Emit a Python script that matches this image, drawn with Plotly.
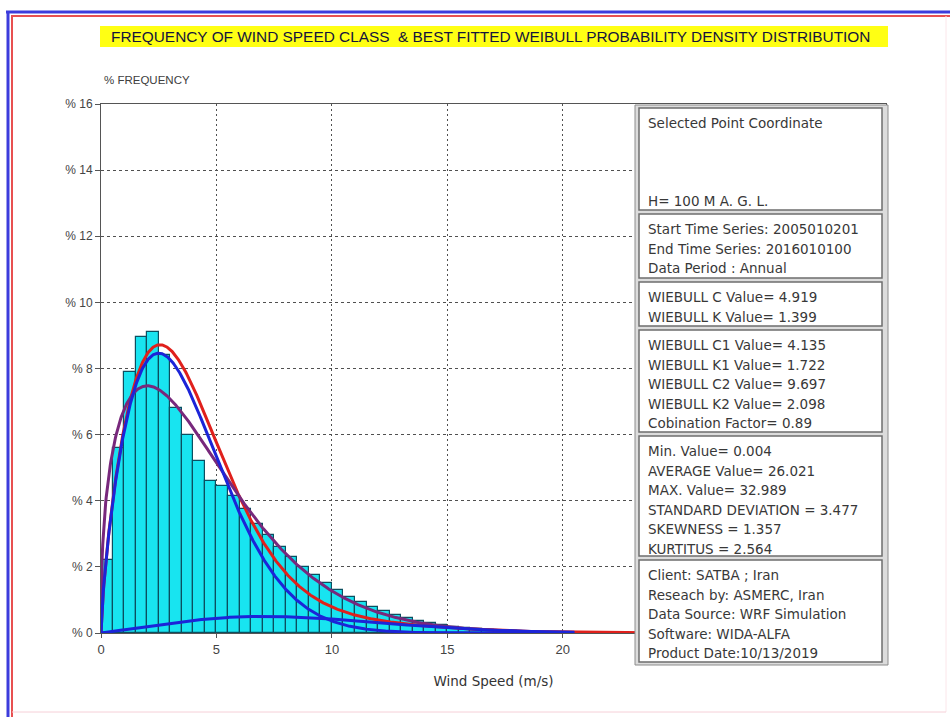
import numpy as np
import plotly.graph_objects as go

# ---- data -------------------------------------------------------------
class_width = 0.5  # m/s
class_start = [i * class_width for i in range(36)]
frequency_pct = [2.2, 5.6, 7.9, 8.95, 9.1, 8.4, 6.8, 6.0, 5.2, 4.6,
                 4.45, 4.15, 3.75, 3.3, 2.95, 2.6, 2.3, 2.0, 1.75, 1.5,
                 1.3, 1.1, 0.95, 0.8, 0.66, 0.55, 0.45, 0.37, 0.3, 0.24,
                 0.19, 0.15, 0.12, 0.09, 0.07, 0.05]

# fitted Weibull parameters
weibull_c, weibull_k = 4.919, 1.399
weibull_c1, weibull_k1 = 4.135, 1.722
weibull_c2, weibull_k2 = 9.697, 2.098
combination_factor = 0.89

y_ticks = [0, 2, 4, 6, 8, 10, 12, 14, 16]
y_tick_text = ["% " + str(v) for v in y_ticks]
x_ticks = [0, 5, 10, 15, 20]

info_boxes = [
    ["Selected Point Coordinate", "", "", "", "H= 100 M A. G. L."],
    ["Start Time Series: 2005010201", "End Time Series: 2016010100",
     "Data Period : Annual"],
    ["WIEBULL C Value= 4.919", "WIEBULL K Value= 1.399"],
    ["WIEBULL C1 Value= 4.135", "WIEBULL K1 Value= 1.722",
     "WIEBULL C2 Value= 9.697", "WIEBULL K2 Value= 2.098",
     "Cobination Factor= 0.89"],
    ["Min. Value= 0.004", "AVERAGE Value= 26.021", "MAX. Value= 32.989",
     "STANDARD DEVIATION = 3.477", "SKEWNESS = 1.357", "KURTITUS = 2.564"],
    ["Client: SATBA ; Iran", "Reseach by: ASMERC, Iran",
     "Data Source: WRF Simulation", "Software: WIDA-ALFA",
     "Product Date:10/13/2019"],
]

# ---- helpers ----------------------------------------------------------
W, H = 950, 717
L, R, T, B = 101, 64, 104, 84
PW, PH = W - L - R, H - T - B


def px(x):
    return (x - L) / PW


def py(y):
    return (H - B - y) / PH


def weibull_pct(x, c, k):
    x = np.asarray(x, dtype=float)
    pdf = (k / c) * (x / c) ** (k - 1) * np.exp(-(x / c) ** k)
    return pdf * 100 * class_width


xs_long = np.linspace(0, 34, 1361)
xs_short = np.linspace(0, 20.5, 821)

single = weibull_pct(xs_short, weibull_c, weibull_k)
comp1 = combination_factor * weibull_pct(xs_short, weibull_c1, weibull_k1)
comp2 = (1 - combination_factor) * weibull_pct(xs_short, weibull_c2, weibull_k2)
mixture = (combination_factor * weibull_pct(xs_long, weibull_c1, weibull_k1)
           + (1 - combination_factor) * weibull_pct(xs_long, weibull_c2, weibull_k2))

fig = go.Figure()

fig.add_trace(go.Bar(
    x=[s + class_width / 2 for s in class_start], y=frequency_pct,
    width=class_width,
    marker=dict(color="#18e4f0", line=dict(color="#0b4f60", width=1.2)),
    hoverinfo="skip", showlegend=False))

fig.add_trace(go.Scatter(x=xs_long, y=mixture, mode="lines",
                         line=dict(color="#e0201c", width=3),
                         hoverinfo="skip", showlegend=False))
fig.add_trace(go.Scatter(x=xs_short, y=single, mode="lines",
                         line=dict(color="#78287c", width=3),
                         hoverinfo="skip", showlegend=False))
fig.add_trace(go.Scatter(x=xs_short, y=comp1, mode="lines",
                         line=dict(color="#1c24d8", width=3),
                         hoverinfo="skip", showlegend=False))
fig.add_trace(go.Scatter(x=xs_short, y=comp2, mode="lines",
                         line=dict(color="#1c24d8", width=3),
                         hoverinfo="skip", showlegend=False))

shapes = []
annotations = []

# outer frame lines
shapes += [
    dict(type="line", xref="paper", yref="paper", x0=px(6), x1=px(950),
         y0=py(12), y1=py(12), line=dict(color="#3c3cdc", width=3)),
    dict(type="line", xref="paper", yref="paper", x0=px(11), x1=px(950),
         y0=py(16), y1=py(16), line=dict(color="#e85050", width=2)),
    dict(type="line", xref="paper", yref="paper", x0=px(8), x1=px(8),
         y0=py(11), y1=py(717), line=dict(color="#3c3cdc", width=3)),
    dict(type="line", xref="paper", yref="paper", x0=px(12), x1=px(12),
         y0=py(16), y1=py(717), line=dict(color="#e85050", width=2)),
    dict(type="line", xref="paper", yref="paper", x0=px(946), x1=px(946),
         y0=py(16), y1=py(712), line=dict(color="#fbe6ea", width=1)),
    dict(type="line", xref="paper", yref="paper", x0=px(12), x1=px(946),
         y0=py(712), y1=py(712), line=dict(color="#f6d0d8", width=1)),
]

# title band
shapes.append(dict(type="rect", xref="paper", yref="paper",
                   x0=px(100), x1=px(888), y0=py(47), y1=py(26),
                   fillcolor="#ffff14", line=dict(width=0), layer="below"))
annotations.append(dict(
    text="FREQUENCY OF WIND SPEED CLASS  & BEST FITTED WEIBULL PROBABILITY DENSITY DISTRIBUTION",
    xref="paper", yref="paper", x=px(490), y=py(36.5),
    xanchor="center", yanchor="middle", showarrow=False,
    font=dict(family="Liberation Sans", size=15.4, color="#14143c")))

annotations.append(dict(text="% FREQUENCY", xref="paper", yref="paper",
                        x=px(102), y=py(80), xanchor="left", yanchor="middle",
                        showarrow=False,
                        font=dict(family="Liberation Sans", size=11.5, color="#404040")))

# info panel
shapes.append(dict(type="rect", xref="paper", yref="paper",
                   x0=px(635), x1=px(888), y0=py(665), y1=py(105),
                   fillcolor="#dcdcdc", line=dict(color="#8c8c8c", width=1),
                   layer="above"))
box_bounds = [(108, 210), (214, 278), (282, 326), (330, 432), (436, 556), (560, 662)]
line_step = 19.5
for (top, bot), lines in zip(box_bounds, info_boxes):
    shapes.append(dict(type="rect", xref="paper", yref="paper",
                       x0=px(639), x1=px(882), y0=py(bot), y1=py(top),
                       fillcolor="white", line=dict(color="#6e6e6e", width=1.5),
                       layer="above"))
    for i, txt in enumerate(lines):
        if not txt:
            continue
        annotations.append(dict(text=txt, xref="paper", yref="paper",
                                x=px(646), y=py(top + 15 + i * line_step),
                                xanchor="left", yanchor="middle", showarrow=False,
                                font=dict(family="DejaVu Sans", size=13.5,
                                          color="#383838")))

fig.update_layout(
    width=W, height=H,
    margin=dict(l=L, r=R, t=T, b=B),
    paper_bgcolor="white", plot_bgcolor="white",
    bargap=0,
    shapes=shapes, annotations=annotations,
    xaxis=dict(range=[0, 34], tickvals=x_ticks, ticks="outside", ticklen=4,
               tickcolor="#555", showline=True, linecolor="#555", mirror=True,
               showgrid=True, gridcolor="#505050", griddash="2px,3px",
               gridwidth=1, zeroline=False,
               tickfont=dict(family="Liberation Sans", size=13, color="#444"),
               title=dict(text="Wind Speed (m/s)", standoff=20,
                          font=dict(family="DejaVu Sans", size=13.5, color="#333"))),
    yaxis=dict(range=[0, 16], tickvals=y_ticks, ticktext=y_tick_text,
               ticks="outside", ticklen=5, tickcolor="#555",
               showline=True, linecolor="#555", mirror=True,
               showgrid=True, gridcolor="#505050", griddash="3px,3px",
               gridwidth=1, zeroline=False,
               tickfont=dict(family="Liberation Sans", size=12, color="#444")),
)

fig.write_html("out.html")
